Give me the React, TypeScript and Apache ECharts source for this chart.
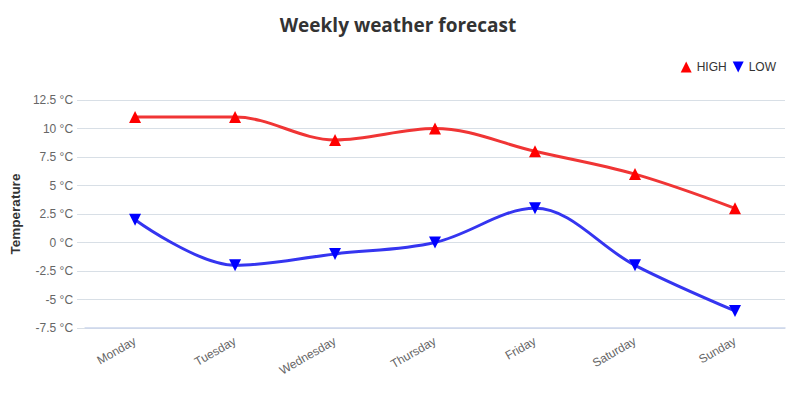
import React, { useEffect, useRef } from "react";
import * as echarts from "echarts";

const days = ["Monday", "Tuesday", "Wednesday", "Thursday", "Friday", "Saturday", "Sunday"];
const highTemps = [11, 11, 9, 10, 8, 6, 3];
const lowTemps = [2, -2, -1, 0, 3, -2, -6];
const yMin = -7.5;
const yMax = 12.5;
const yStep = 2.5;

export default function App() {
  const ref = useRef<HTMLDivElement>(null);
  useEffect(() => {
    if (!ref.current) return;
    const chart = echarts.init(ref.current, null, { renderer: "svg" });
    const font = "'Liberation Sans', Arial, sans-serif";
    chart.setOption({
      animation: false,
      backgroundColor: "#ffffff",
      title: {
        text: "Weekly weather forecast",
        left: "center",
        top: 10,
        textStyle: { fontFamily: "'Open Sans', sans-serif", fontSize: 19, fontWeight: "bold", color: "#333333" },
      },
      legend: {
        right: 15,
        top: 56,
        itemWidth: 11,
        itemHeight: 11,
        itemGap: 6,
        textStyle: { fontFamily: font, fontSize: 12, color: "#333333" },
        data: [
          { name: "HIGH", icon: "triangle", itemStyle: { color: "#ff0000" } },
          { name: "LOW", icon: "path://M0,0 L10,0 L5,10 Z", itemStyle: { color: "#0000ff" } },
        ],
      },
      grid: { left: 79, right: 11, top: 100, bottom: 70 },
      xAxis: {
        type: "category",
        data: days,
        boundaryGap: true,
        axisLine: { onZero: false, lineStyle: { color: "#ccd6eb", width: 1.5 } },
        axisTick: { alignWithLabel: true, length: 10, lineStyle: { color: "#ccd6eb" } },
        axisLabel: { rotate: 30, fontFamily: font, fontSize: 12, color: "#666666", margin: 12 },
      },
      yAxis: {
        type: "value",
        min: yMin,
        max: yMax,
        interval: yStep,
        name: "Temperature",
        nameLocation: "middle",
        nameGap: 51,
        nameTextStyle: { fontFamily: font, fontSize: 13.5, fontWeight: "bold", color: "#333333" },
        axisLine: { show: false },
        axisTick: { show: true, length: 8, lineStyle: { color: "#d8dfe6" } },
        splitLine: { lineStyle: { color: "#d8dfe6" } },
        axisLabel: {
          fontFamily: font,
          fontSize: 12,
          color: "#666666",
          margin: 12,
          formatter: (v: number) => `${v} °C`,
        },
      },
      series: [
        {
          name: "HIGH",
          type: "line",
          smooth: 0.35,
          data: highTemps,
          symbol: "triangle",
          symbolSize: 12,
          lineStyle: { color: "#f03535", width: 3 },
          itemStyle: { color: "#ff0000" },
        },
        {
          name: "LOW",
          type: "line",
          smooth: 0.35,
          data: lowTemps,
          symbol: "path://M0,0 L10,0 L5,10 Z",
          symbolSize: 12,
          lineStyle: { color: "#3535f0", width: 3 },
          itemStyle: { color: "#0000ff" },
        },
      ],
    });
    return () => chart.dispose();
  }, []);
  return <div ref={ref} style={{ position: "fixed", left: 0, top: 0, width: 796, height: 398 }} />;
}
